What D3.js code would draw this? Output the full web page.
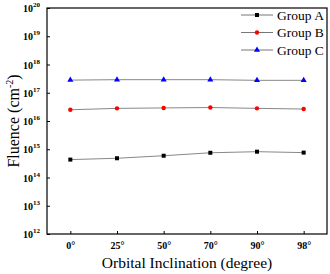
<!DOCTYPE html>
<html>
<head>
<meta charset="utf-8">
<script src="https://cdn.jsdelivr.net/npm/d3@7"></script>
<style>
  body { margin: 0; background: #fff; }
  svg text { font-family: "Liberation Serif", "Times New Roman", "DejaVu Serif", serif; }
</style>
</head>
<body>
<div id="chart"></div>
<script>
// inclination categories and fluence per group (cm^-2)
const inclinations = ["0°", "25°", "50°", "70°", "90°", "98°"];
const groupA = [4.3e14, 4.8e14, 5.9e14, 7.5e14, 8.2e14, 7.6e14];
const groupB = [2.5e16, 2.8e16, 2.9e16, 3.0e16, 2.8e16, 2.65e16];
const groupC = [2.8e17, 2.9e17, 2.9e17, 2.9e17, 2.75e17, 2.75e17];
const yTickExps = [12, 13, 14, 15, 16, 17, 18, 19, 20];

const series = [
    { name: "Group A", values: groupA, color: "#000", shape: "square" },
    { name: "Group B", values: groupB, color: "#f00", shape: "circle" },
    { name: "Group C", values: groupC, color: "#00f", shape: "triangle" },
];

const width = 330, height = 274;
const margin = { top: 8, right: 3, bottom: 40, left: 47 };
const innerW = width - margin.left - margin.right;
const innerH = height - margin.top - margin.bottom;

const svg = d3.select("#chart").append("svg").attr("width", width).attr("height", height);
const g = svg.append("g").attr("transform", `translate(${margin.left},${margin.top})`);

const x = d3.scalePoint().domain(inclinations).range([0, innerW]).padding(0.5);
const y = d3.scaleLog().domain([1e12, 1e20]).range([innerH, 0]);

// frame
g.append("rect")
    .attr("width", innerW).attr("height", innerH)
    .attr("fill", "none").attr("stroke", "#000").attr("stroke-width", 1.2);

// x axis, inward ticks
const xAxis = g.append("g")
    .attr("transform", `translate(0,${innerH})`)
    .call(d3.axisBottom(x).tickSizeInner(-3).tickSizeOuter(0).tickPadding(8));
xAxis.select(".domain").remove();
xAxis.attr("font-family", null);
xAxis.selectAll("text").attr("font-size", "10px").attr("font-weight", "bold").attr("fill", "#000");

// y axis, inward ticks, 10^n labels
const yAxis = g.append("g")
    .call(d3.axisLeft(y).tickValues(yTickExps.map(e => Math.pow(10, e)))
        .tickSizeInner(-3).tickSizeOuter(0).tickFormat(() => ""));
yAxis.select(".domain").remove();

yTickExps.forEach(e => {
    const t = g.append("text")
        .attr("x", -7)
        .attr("y", y(Math.pow(10, e)) + 4)
        .attr("text-anchor", "end")
        .attr("font-size", "10px")
        .attr("font-weight", "bold");
    t.append("tspan").text("10");
    t.append("tspan").attr("font-size", "7px").attr("dy", -5).text(e);
});

// lines
const line = d3.line().x((d, i) => x(inclinations[i])).y(d => y(d));

function marker(sel, shape, color, cx, cy) {
    if (shape === "square") {
        sel.append("rect").attr("x", cx - 2).attr("y", cy - 2).attr("width", 4).attr("height", 4).attr("fill", color);
    } else if (shape === "circle") {
        sel.append("circle").attr("cx", cx).attr("cy", cy).attr("r", 2.2).attr("fill", color);
    } else {
        sel.append("path")
            .attr("d", d3.symbol().type(d3.symbolTriangle).size(16)())
            .attr("transform", `translate(${cx},${cy})`)
            .attr("fill", color);
    }
}

series.forEach(s => {
    g.append("path")
        .datum(s.values)
        .attr("d", line)
        .attr("fill", "none")
        .attr("stroke", "#888")
        .attr("stroke-width", 1);
    s.values.forEach((v, i) => marker(g, s.shape, s.color, x(inclinations[i]), y(v)));
});

// legend
const legend = g.append("g").attr("transform", `translate(${innerW - 86},7)`);
series.forEach((s, i) => {
    const row = legend.append("g").attr("transform", `translate(0,${i * 17.5})`);
    row.append("line").attr("x1", 0).attr("x2", 32).attr("y1", 0).attr("y2", 0)
        .attr("stroke", "#777").attr("stroke-width", 1);
    marker(row, s.shape, s.color, 16, 0);
    row.append("text").attr("x", 36).attr("y", 4.5).attr("font-size", "13.5px").text(s.name);
});

// axis titles
svg.append("text")
    .attr("x", margin.left + innerW / 2)
    .attr("y", 268)
    .attr("text-anchor", "middle")
    .attr("font-size", "15.5px")
    .text("Orbital Inclination (degree)");

const yt = svg.append("text")
    .attr("transform", `translate(19,${margin.top + innerH / 2}) rotate(-90)`)
    .attr("text-anchor", "middle")
    .attr("font-size", "16px");
yt.append("tspan").text("Fluence (cm");
yt.append("tspan").attr("font-size", "10px").attr("dy", -6).text("-2");
yt.append("tspan").attr("dy", 6).text(")");
</script>
</body>
</html>
